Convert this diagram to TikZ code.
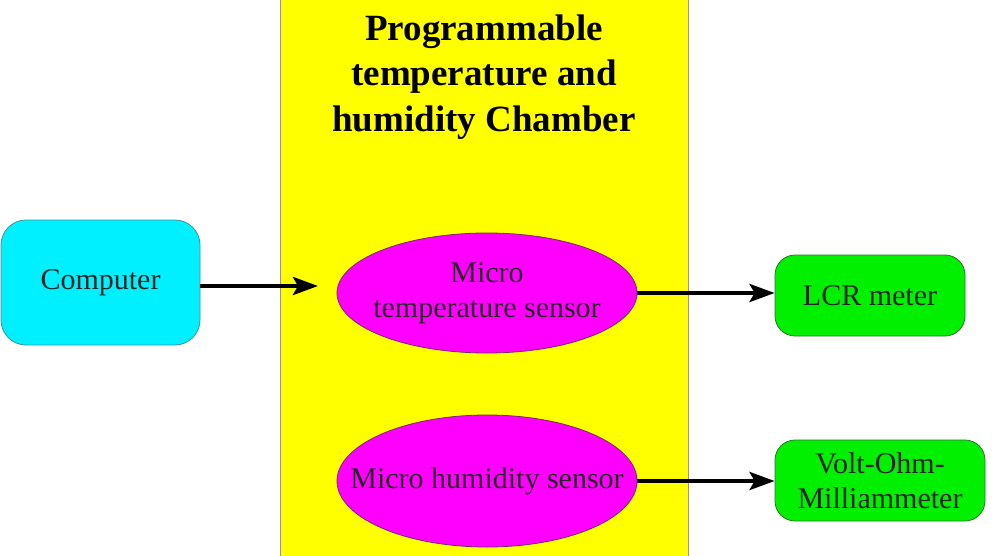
\documentclass[tikz,border=0pt]{standalone}
\usepackage{fontspec}
\setmainfont{Liberation Serif}
\usetikzlibrary{shapes.geometric,arrows.meta}
\definecolor{chamber}{RGB}{255,255,0}
\definecolor{chamberline}{RGB}{160,150,110}
\definecolor{compfill}{RGB}{0,240,255}
\definecolor{compline}{RGB}{60,150,160}
\definecolor{sensfill}{RGB}{255,0,255}
\definecolor{sensline}{RGB}{120,40,110}
\definecolor{meterfill}{RGB}{0,240,0}
\definecolor{meterline}{RGB}{40,120,40}
\tikzset{
  txt/.style={font=\fontsize{30}{35}\selectfont, align=center, text=black!85},
  compbox/.style={txt, draw=compline, fill=compfill, line width=0.8pt, rounded corners=25pt, minimum width=199pt, minimum height=125pt, inner sep=0pt},
  meterbox/.style={txt, draw=meterline, fill=meterfill, line width=0.8pt, rounded corners=20pt, inner sep=0pt},
  sensor/.style={ellipse, draw=sensline, fill=sensfill, line width=0.8pt, minimum width=300pt, inner sep=0pt},
  flow/.style={line width=4pt, -{Stealth[length=25pt,width=18pt,inset=5pt]}}
}
\begin{document}
\begin{tikzpicture}[x=1pt,y=-1pt]
\useasboundingbox (0,0) rectangle (1000,556);
\fill[white] (0,0) rectangle (1000,556);
\node[draw=chamberline, fill=chamber, line width=0.8pt, minimum width=408pt, minimum height=562pt, inner sep=0pt] (chamber) at (484,278) {};
\node[font=\fontsize{37}{45.5}\selectfont\bfseries, align=center] (title) at (484,77) {Programmable\\temperature and\\humidity Chamber};
\node[compbox] (computer) at (100.5,282.5) {Computer};
\coordinate (chamberin) at (318,286);
\node[sensor, minimum height=120pt, label={[txt, name=templabel]center:{Micro\\temperature sensor}}] (tempsensor) at (487,293) {};
\node[sensor, minimum height=132pt, label={[txt, name=humlabel]center:{Micro humidity sensor}}] (humsensor) at (487,481) {};
\node[meterbox, minimum width=190pt, minimum height=81pt] (lcr) at (870,295.5) {LCR meter};
\node[meterbox, minimum width=210pt, minimum height=81pt] (vom) at (880,480.5) {Volt-Ohm-\\Milliammeter};
\draw[flow] (computer.east |- chamberin) -- (chamberin);
\draw[flow] (tempsensor.east) -- (lcr.west |- tempsensor.east);
\draw[flow] (humsensor.east) -- (vom.west |- humsensor.east);
\end{tikzpicture}
\end{document}
